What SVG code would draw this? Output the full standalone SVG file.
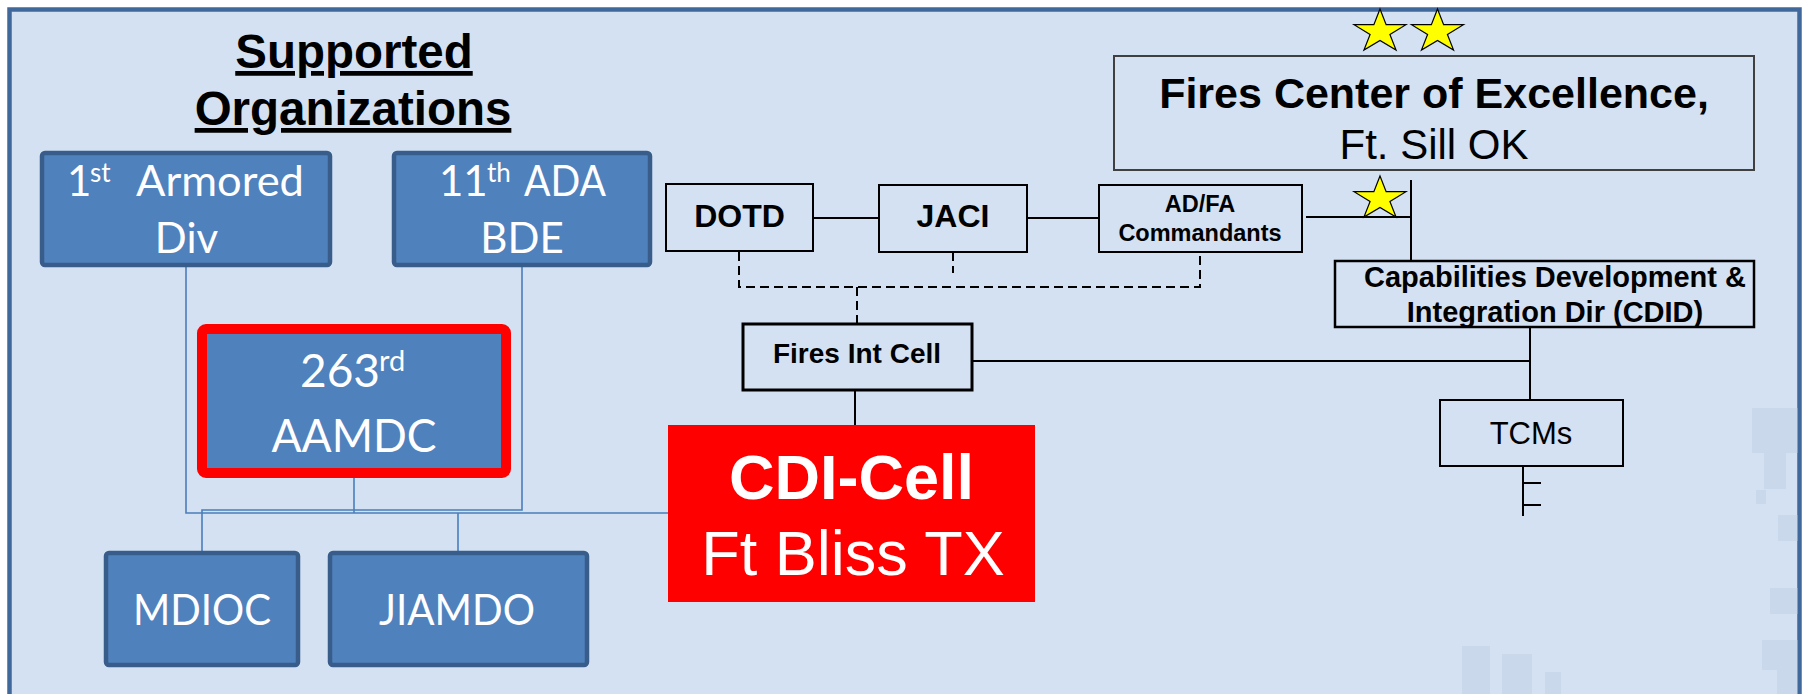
<svg xmlns="http://www.w3.org/2000/svg" xmlns:xlink="http://www.w3.org/1999/xlink" width="1806" height="694" viewBox="0 0 1806 694">
<style>
.ab{font-family:"Liberation Sans",Arial,sans-serif;font-weight:bold;fill:#000}
.ar{font-family:"Liberation Sans",Arial,sans-serif;fill:#000}
.cal{font-family:Lato,"Open Sans",sans-serif;fill:#fff}
.bbox{fill:#4f81bd;stroke:#385d8a;stroke-width:4.5}
.kbox{fill:none;stroke:#000;stroke-width:2}
.bl{fill:none;stroke:#4a7ebb;stroke-width:1.6}
.kl{fill:none;stroke:#000;stroke-width:2}
.dl{fill:none;stroke:#000;stroke-width:2;stroke-dasharray:9 5}
.deco{fill:#b9c9df;opacity:0.35}
</style>
<defs>
<path id="star" d="M0,-22.7 L6.14,-7.01 L25.96,-7.01 L9.91,2.68 L16.05,18.36 L0,8.67 L-16.05,18.36 L-9.91,2.68 L-25.96,-7.01 L-6.14,-7.01 Z" fill="#ffff00" stroke="#000" stroke-width="1.2"/>
</defs>
<rect x="0" y="0" width="1806" height="694" fill="#ffffff"/>
<rect x="9.5" y="9.5" width="1790" height="720" fill="#d3e1f3" stroke="#41689b" stroke-width="4.5"/>
<g id="background-decor">
<rect class="deco" x="1752" y="408" width="46" height="45"/>
<rect class="deco" x="1764" y="453" width="22" height="36"/>
<rect class="deco" x="1756" y="490" width="10" height="14"/>
<rect class="deco" x="1778" y="515" width="20" height="26"/>
<rect class="deco" x="1770" y="588" width="28" height="26"/>
<rect class="deco" x="1762" y="640" width="36" height="30"/>
<rect class="deco" x="1777" y="670" width="21" height="24"/>
<rect class="deco" x="1462" y="646" width="28" height="48"/>
<rect class="deco" x="1502" y="654" width="30" height="40"/>
<rect class="deco" x="1545" y="672" width="16" height="22"/>
</g>
<g id="title">
<text class="ab" x="354" y="68" font-size="47.5" text-anchor="middle" text-decoration="underline">Supported</text>
<text class="ab" x="353" y="125" font-size="47.5" text-anchor="middle" text-decoration="underline">Organizations</text>
</g>
<g id="connectors">
<path class="bl" d="M186,267 V513 H668"/>
<path class="bl" d="M522,267 V510 H202 V551"/>
<path class="bl" d="M354,478 V513"/>
<path class="bl" d="M458,513 V551"/>
<path class="kl" d="M813,218 H879"/>
<path class="kl" d="M1027,218 H1099"/>
<path class="kl" d="M1306,217 H1411"/>
<path class="kl" d="M1411,180 V261"/>
<path class="kl" d="M855,390 V425"/>
<path class="kl" d="M972,361 H1530"/>
<path class="kl" d="M1530,327 V400"/>
<path class="kl" d="M1523,467 V516 M1523,483 H1541 M1523,505 H1541"/>
<path class="dl" d="M739,252 V287 H1200 V252"/>
<path class="dl" d="M953,252 V273"/>
<path class="dl" d="M857,287 V323"/>
</g>
<g id="node-1st-armored">
<rect class="bbox" x="42" y="153" width="288" height="112" rx="3"/>
<text class="cal" x="67" y="196" font-size="42">1<tspan x="90" dy="-14" font-size="26">st</tspan> <tspan x="136" dy="14" textLength="168" lengthAdjust="spacingAndGlyphs">Armored</tspan></text>
<text class="cal" x="186.5" y="253" font-size="42" text-anchor="middle">Div</text>
</g>
<g id="node-11th-ada">
<rect class="bbox" x="394" y="153" width="256" height="112" rx="3"/>
<text class="cal" x="439" y="196" font-size="42">11<tspan x="487" dy="-14" font-size="26">th</tspan> <tspan x="524" dy="14" textLength="82" lengthAdjust="spacingAndGlyphs">ADA</tspan></text>
<text class="cal" x="522" y="253" font-size="42" text-anchor="middle">BDE</text>
</g>
<g id="node-263rd">
<rect x="202" y="329" width="304" height="144" rx="4" fill="#4f81bd" stroke="#ff0000" stroke-width="10"/>
<text class="cal" x="300" y="387" font-size="46">263<tspan x="379" dy="-16" font-size="29">rd</tspan></text>
<text class="cal" x="354" y="452" font-size="46" text-anchor="middle" textLength="165" lengthAdjust="spacingAndGlyphs">AAMDC</text>
</g>
<g id="node-mdioc">
<rect class="bbox" x="106" y="553" width="192" height="112" rx="3"/>
<text class="cal" x="202" y="625" font-size="43" text-anchor="middle" textLength="138" lengthAdjust="spacingAndGlyphs">MDIOC</text>
</g>
<g id="node-jiamdo">
<rect class="bbox" x="330" y="553" width="257" height="112" rx="3"/>
<text class="cal" x="457" y="625" font-size="43" text-anchor="middle" textLength="156" lengthAdjust="spacingAndGlyphs">JIAMDO</text>
</g>
<g id="node-dotd">
<rect class="kbox" x="666" y="184" width="147" height="67"/>
<text class="ab" x="739.5" y="227" font-size="32" text-anchor="middle">DOTD</text>
</g>
<g id="node-jaci">
<rect class="kbox" x="879" y="185" width="148" height="67"/>
<text class="ab" x="953" y="227" font-size="32" text-anchor="middle">JACI</text>
</g>
<g id="node-adfa">
<rect class="kbox" x="1099" y="185" width="203" height="67"/>
<text class="ab" x="1200" y="212" font-size="23.5" text-anchor="middle">AD/FA</text>
<text class="ab" x="1200" y="241" font-size="23.5" text-anchor="middle">Commandants</text>
</g>
<g id="node-fcoe">
<use xlink:href="#star" x="1380" y="31.7"/>
<use xlink:href="#star" x="1437.5" y="31.7"/>
<rect x="1114" y="56" width="640" height="114" fill="none" stroke="#404040" stroke-width="2"/>
<text class="ab" x="1434" y="108" font-size="43" text-anchor="middle">Fires Center of Excellence,</text>
<text class="ar" x="1434" y="159" font-size="42" text-anchor="middle">Ft. Sill OK</text>
</g>
<g id="star-commandant">
<use xlink:href="#star" x="1380" y="198.7"/>
</g>
<g id="node-cdid">
<rect x="1335" y="261" width="419" height="66" fill="none" stroke="#000" stroke-width="2.5"/>
<text class="ab" x="1555" y="287" font-size="29" text-anchor="middle">Capabilities Development &amp;</text>
<text class="ab" x="1555" y="322" font-size="29" text-anchor="middle">Integration Dir (CDID)</text>
</g>
<g id="node-fires-int-cell">
<rect x="743" y="324" width="229" height="66" fill="none" stroke="#000" stroke-width="3"/>
<text class="ab" x="857" y="363" font-size="28" text-anchor="middle">Fires Int Cell</text>
</g>
<g id="node-tcms">
<rect class="kbox" x="1440" y="400" width="183" height="66"/>
<text class="ar" x="1531" y="444" font-size="31" text-anchor="middle">TCMs</text>
</g>
<g id="node-cdi-cell">
<rect x="668" y="425" width="367" height="177" fill="#ff0000"/>
<text class="ab" x="851.5" y="499" font-size="63" text-anchor="middle" style="fill:#fff">CDI-Cell</text>
<text class="ar" x="853" y="575" font-size="63" text-anchor="middle" style="fill:#fff">Ft Bliss TX</text>
</g>
</svg>
